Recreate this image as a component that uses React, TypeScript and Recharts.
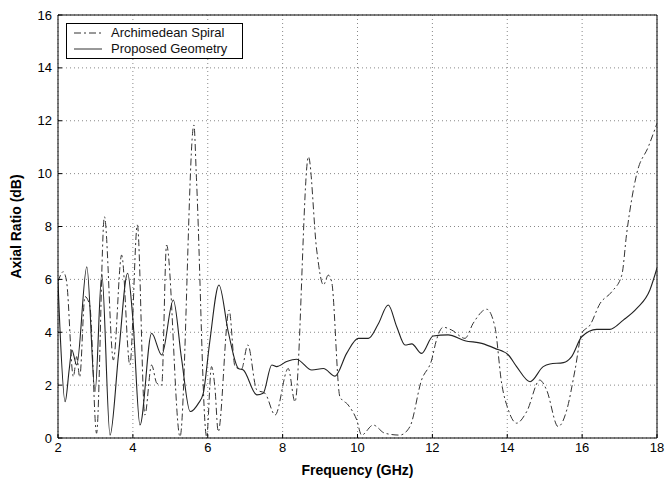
import React from "react";
import {
  CartesianGrid,
  Line,
  LineChart,
  ReferenceLine,
  XAxis,
  YAxis,
} from "recharts";

// Archimedean spiral (dash-dot)
const spiralFreq = [
  2.0, 2.14, 2.23, 2.41, 2.5, 2.58, 2.72, 2.85, 3.03, 3.24, 3.48, 3.7, 3.92,
  4.12, 4.32, 4.5, 4.64, 4.77, 4.9, 5.26, 5.63, 5.7, 5.97, 6.1, 6.19, 6.28,
  6.57, 6.73, 6.9, 7.07, 7.31, 7.53, 7.8, 8.15, 8.33, 8.69, 8.91, 9.09, 9.22,
  9.31, 9.53, 9.75, 9.98, 10.11, 10.42, 10.73, 11.13, 11.4, 11.71, 11.98,
  12.11, 12.29, 12.52, 12.87, 13.09, 13.45, 13.67, 13.85, 14.03, 14.25, 14.52,
  14.87, 15.05, 15.36, 15.59, 15.81, 15.99, 16.21, 16.48, 16.79, 17.06, 17.19,
  17.46, 17.77, 18.0,
];
const spiralAR = [
  5.91, 6.29, 5.91, 2.32, 3.08, 2.3, 5.35, 5.0, 0.18, 8.37, 2.95, 6.92, 2.76,
  8.06, 0.87, 2.76, 2.07, 2.0, 7.3, 0.05, 11.84, 9.76, 0.05, 2.7, 1.94, 0.24,
  4.84, 2.7, 2.6, 3.52, 1.82, 1.69, 0.87, 2.63, 1.37, 10.64, 7.11, 5.79, 6.16,
  5.91, 1.56, 1.25, 0.68, 0.11, 0.49, 0.18, 0.11, 0.43, 2.19, 2.95, 3.71,
  4.19, 4.08, 3.77, 4.34, 4.87, 4.21, 2.07, 1.06, 0.56, 1.0, 2.19, 1.82, 0.43,
  1.06, 2.57, 3.96, 4.27, 5.09, 5.53, 6.16, 7.74, 10.0, 11.02, 11.9,
];

// Proposed geometry (solid)
const proposedFreq = [
  2.0, 2.05, 2.19, 2.3, 2.37, 2.5, 2.77, 2.99, 3.17, 3.39, 3.62, 3.86, 4.0,
  4.19, 4.5, 4.77, 5.08, 5.3, 5.53, 5.75, 5.88, 6.05, 6.3, 6.55, 6.82, 6.95,
  7.31, 7.48, 7.71, 7.84, 8.11, 8.37, 8.78, 9.09, 9.4, 9.71, 10.02, 10.29,
  10.55, 10.82, 11.05, 11.27, 11.45, 11.71, 12.02, 12.42, 12.87, 13.32, 13.67,
  14.03, 14.25, 14.61, 14.96, 15.14, 15.5, 15.72, 15.99, 16.39, 16.74, 17.1,
  17.46, 17.81, 18.0,
];
const proposedAR = [
  5.9, 4.2, 1.37, 2.6, 3.33, 2.76, 6.48, 1.75, 6.2, 0.11, 3.2, 6.23, 4.5, 0.49,
  3.96, 3.14, 5.22, 3.0, 1.0, 1.31, 1.69, 3.6, 5.79, 4.0, 2.63, 2.57, 1.63,
  1.69, 2.76, 2.7, 2.89, 2.98, 2.57, 2.63, 2.34, 3.2, 3.77, 3.77, 4.3, 5.03,
  4.2, 3.52, 3.56, 3.2, 3.86, 3.9, 3.68, 3.58, 3.39, 3.14, 2.7, 2.13, 2.7, 2.8,
  2.85, 3.08, 3.83, 4.11, 4.11, 4.46, 4.9, 5.6, 6.43,
];

const xTicks = [2, 4, 6, 8, 10, 12, 14, 16, 18];
const yTicks = [0, 2, 4, 6, 8, 10, 12, 14, 16];

const spiralData = spiralFreq.map((f, i) => ({ f, v: spiralAR[i] }));
const proposedData = proposedFreq.map((f, i) => ({ f, v: proposedAR[i] }));

const font = "'Liberation Sans', Arial, sans-serif";
const DASH_DOT = "7 3 2 3";

// legend box drawn over the plot, top-left corner
function LegendBox() {
  const row = (dash: string | undefined, label: string) => (
    <div style={{ display: "flex", alignItems: "center", height: 16 }}>
      <svg width={28} height={6} style={{ marginLeft: 7, marginRight: 9 }}>
        <line x1={0} y1={3} x2={28} y2={3} stroke="#333" strokeWidth={1} strokeDasharray={dash} />
      </svg>
      <span>{label}</span>
    </div>
  );
  return (
    <div
      style={{
        position: "absolute",
        left: 66,
        top: 23,
        width: 175,
        padding: "1px 0",
        border: "1px solid #000",
        background: "#fff",
        fontFamily: font,
        fontSize: 13,
        color: "#111",
        lineHeight: "16px",
      }}
    >
      {row(DASH_DOT, "Archimedean Spiral")}
      {row(undefined, "Proposed Geometry")}
    </div>
  );
}

export default function App() {
  return (
    <div style={{ position: "absolute", left: 0, top: 0, width: 667, height: 483, background: "#fff" }}>
      <LineChart
        width={667}
        height={483}
        margin={{ top: 15, right: 10, bottom: 0, left: 0 }}
      >
        <CartesianGrid stroke="#888" strokeDasharray="1 3" />
        <XAxis
          type="number"
          dataKey="f"
          domain={[2, 18]}
          ticks={xTicks}
          allowDataOverflow
          height={45}
          stroke="#000"
          tickSize={-4}
          tickMargin={9}
          tick={{ fontFamily: font, fontSize: 13, fill: "#000" }}
          label={{
            value: "Frequency (GHz)",
            position: "insideBottom",
            offset: 8,
            style: { fontFamily: font, fontSize: 14, fontWeight: "bold", fill: "#000" },
          }}
        />
        <YAxis
          type="number"
          domain={[0, 16]}
          ticks={yTicks}
          allowDataOverflow
          width={58}
          stroke="#000"
          tickSize={-4}
          tickMargin={10}
          tick={{ fontFamily: font, fontSize: 13, fill: "#000" }}
          label={{
            value: "Axial Ratio (dB)",
            angle: -90,
            position: "insideLeft",
            offset: 16,
            style: {
              fontFamily: font,
              fontSize: 14,
              fontWeight: "bold",
              fill: "#000",
              textAnchor: "middle",
            },
          }}
        />
        <ReferenceLine y={16} stroke="#000" />
        <ReferenceLine x={18} stroke="#000" />
        <Line
          data={spiralData}
          dataKey="v"
          type="monotone"
          stroke="#333"
          strokeWidth={1}
          strokeDasharray={DASH_DOT}
          dot={false}
          isAnimationActive={false}
        />
        <Line
          data={proposedData}
          dataKey="v"
          type="monotone"
          stroke="#222"
          strokeWidth={1.1}
          dot={false}
          isAnimationActive={false}
        />
      </LineChart>
      <LegendBox />
    </div>
  );
}
